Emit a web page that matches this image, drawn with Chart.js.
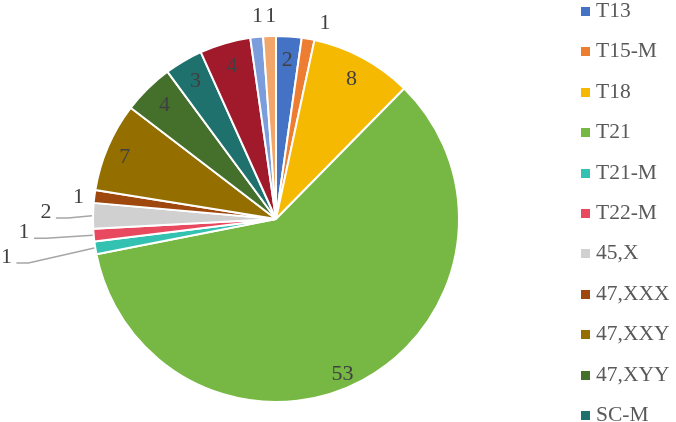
<!DOCTYPE html>
<html>
<head>
<meta charset="utf-8">
<script src="https://cdn.jsdelivr.net/npm/chart.js@4.4.1/dist/chart.umd.min.js"></script>
<style>
  body { margin: 0; background: #fff; }
  #wrap { position: relative; width: 676px; height: 422px; overflow: hidden; }
  #legend { position: absolute; left: 581px; top: 0; width: 95px; height: 422px; overflow: hidden;
    font-family: "Liberation Serif", "Times New Roman", serif; font-size: 21.5px; color: #595959; }
  .item { position: absolute; left: 0; height: 22px; line-height: 22px; white-space: nowrap; }
  .box { display: inline-block; width: 9px; height: 9px; margin-right: 6px; vertical-align: 1px; }
</style>
</head>
<body>
<div id="wrap">
  <canvas id="pieChart" width="676" height="422"></canvas>
  <div id="legend"></div>
</div>
<script>
// karyotype categories and case counts (read clockwise from 12 o'clock)
const categories = ['T13', 'T15-M', 'T18', 'T21', 'T21-M', 'T22-M', '45,X', '47,XXX', '47,XXY', '47,XYY', 'SC-M', 'Other-A', 'Other-B', 'Other-C'];
const counts = [2, 1, 8, 53, 1, 1, 2, 1, 7, 4, 3, 4, 1, 1];
const colors = ['#4472C4', '#ED7D31', '#F4B900', '#76B843', '#33C1B1', '#E8495F', '#D0D0D0',
  '#9E480E', '#946F00', '#45702C', '#1E716D', '#A01A2C', '#7B9DDC', '#F3A66A'];

// label placement: null = inside the slice, otherwise outside with nudge (style only)
const outside = [null, {ext: 22, dx: 13, dy: 6}, null, null,
  {ext: 89, dx: -1, dy: -5, line: true}, {ext: 69, dx: -1, dy: -9, line: true},
  {ext: 47, dx: 0, dy: -3, line: true}, {ext: 16, dx: 0, dy: 3},
  null, null, null, null, {ext: 21, dx: 3, dy: 0}, {ext: 21, dx: 2, dy: 1}];
const insideNudge = {3: [-9, 15], 8: [-5, 1]};

const pieLabels = {
  id: 'pieLabels',
  afterDatasetsDraw(chart) {
    const ctx = chart.ctx;
    const meta = chart.getDatasetMeta(0);
    ctx.save();
    ctx.font = '22px "Liberation Serif", "Times New Roman", serif';
    ctx.fillStyle = '#404040';
    ctx.textAlign = 'center';
    ctx.textBaseline = 'middle';
    meta.data.forEach((arc, i) => {
      const mid = (arc.startAngle + arc.endAngle) / 2;
      const cx = Math.cos(mid), cy = Math.sin(mid);
      const r = arc.outerRadius;
      const o = outside[i];
      let lx, ly;
      if (o) {
        lx = arc.x + (r + o.ext) * cx + o.dx;
        ly = arc.y + (r + o.ext) * cy + o.dy;
        if (o.line) {
          ctx.strokeStyle = '#A6A6A6';
          ctx.lineWidth = 1.5;
          ctx.beginPath();
          ctx.moveTo(lx + 10, ly + 6);
          ctx.lineTo(lx + 22, ly + 6);
          ctx.lineTo(arc.x + (r + 1) * cx, arc.y + (r + 1) * cy);
          ctx.stroke();
        }
      } else {
        const n = insideNudge[i] || [0, 0];
        lx = arc.x + r * 0.87 * cx + n[0];
        ly = arc.y + r * 0.87 * cy + n[1];
      }
      ctx.fillText(String(counts[i]), lx, ly);
    });
    ctx.restore();
  }
};

new Chart(document.getElementById('pieChart'), {
  type: 'pie',
  data: {
    labels: categories,
    datasets: [{
      data: counts,
      backgroundColor: colors,
      borderColor: '#ffffff',
      borderWidth: 2
    }]
  },
  options: {
    responsive: false,
    animation: false,
    layout: { padding: { left: 92, right: 216, top: 35, bottom: 19 } },
    plugins: {
      legend: { display: false },
      tooltip: { enabled: false }
    }
  },
  plugins: [pieLabels]
});

// legend as html, clipped at the bottom like the original
const legend = document.getElementById('legend');
categories.forEach((c, i) => {
  const div = document.createElement('div');
  div.className = 'item';
  div.style.top = (10 + i * 40.4 - 11) + 'px';
  div.innerHTML = '<span class="box" style="background:' + colors[i] + '"></span>' + c;
  legend.appendChild(div);
});
</script>
</body>
</html>
